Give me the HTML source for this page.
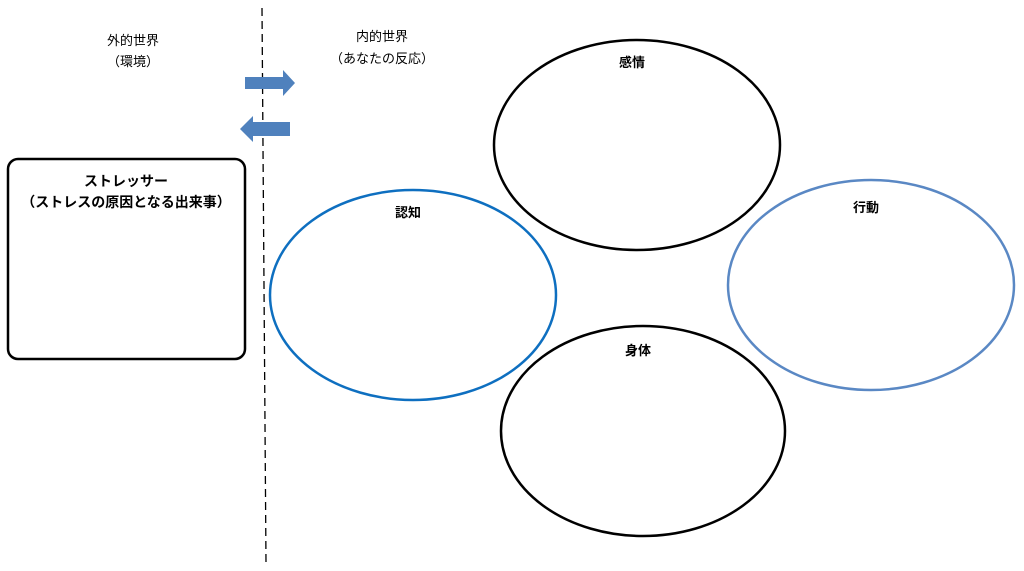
<!DOCTYPE html>
<html><head><meta charset="utf-8"><style>
html,body{margin:0;padding:0;background:#fff;}
svg{display:block}
text{font-family:"Liberation Sans","Noto Sans CJK JP",sans-serif;fill:#000;}
</style></head><body>
<svg width="1024" height="571" viewBox="0 0 1024 571" xmlns="http://www.w3.org/2000/svg">
<line x1="262" y1="8" x2="266" y2="563" stroke="#000" stroke-width="1.3" stroke-dasharray="8,5"/>
<text x="133" y="45" font-size="13" text-anchor="middle">外的世界</text>
<text x="133" y="66" font-size="13" text-anchor="middle">（環境）</text>
<text x="382" y="41" font-size="13" text-anchor="middle">内的世界</text>
<text x="382" y="63" font-size="13" text-anchor="middle">（あなたの反応）</text>
<polygon points="245,77 283,77 283,70 295,83 283,96 283,89 245,89" fill="#4f81bd"/>
<polygon points="290,122 253,122 253,116 240,129 253,142 253,136 290,136" fill="#4f81bd"/>
<rect x="8" y="159" width="237" height="200" rx="10" fill="none" stroke="#000" stroke-width="2.5"/>
<text x="126" y="186" font-size="14" font-weight="bold" text-anchor="middle">ストレッサー</text>
<text x="126" y="207" font-size="14" font-weight="bold" text-anchor="middle">（ストレスの原因となる出来事）</text>
<ellipse cx="637" cy="145" rx="143" ry="105" fill="none" stroke="#000" stroke-width="2.5"/>
<text x="632" y="67" font-size="13" font-weight="bold" text-anchor="middle">感情</text>
<ellipse cx="413" cy="295" rx="143" ry="105" fill="none" stroke="#0e6fc0" stroke-width="2.5"/>
<text x="408" y="217" font-size="13" font-weight="bold" text-anchor="middle">認知</text>
<ellipse cx="871" cy="285" rx="143" ry="105" fill="none" stroke="#5a88c4" stroke-width="2.5"/>
<text x="866" y="212" font-size="13" font-weight="bold" text-anchor="middle">行動</text>
<ellipse cx="643" cy="431" rx="142" ry="105" fill="none" stroke="#000" stroke-width="2.5"/>
<text x="638" y="355" font-size="13" font-weight="bold" text-anchor="middle">身体</text>
</svg>
</body></html>
